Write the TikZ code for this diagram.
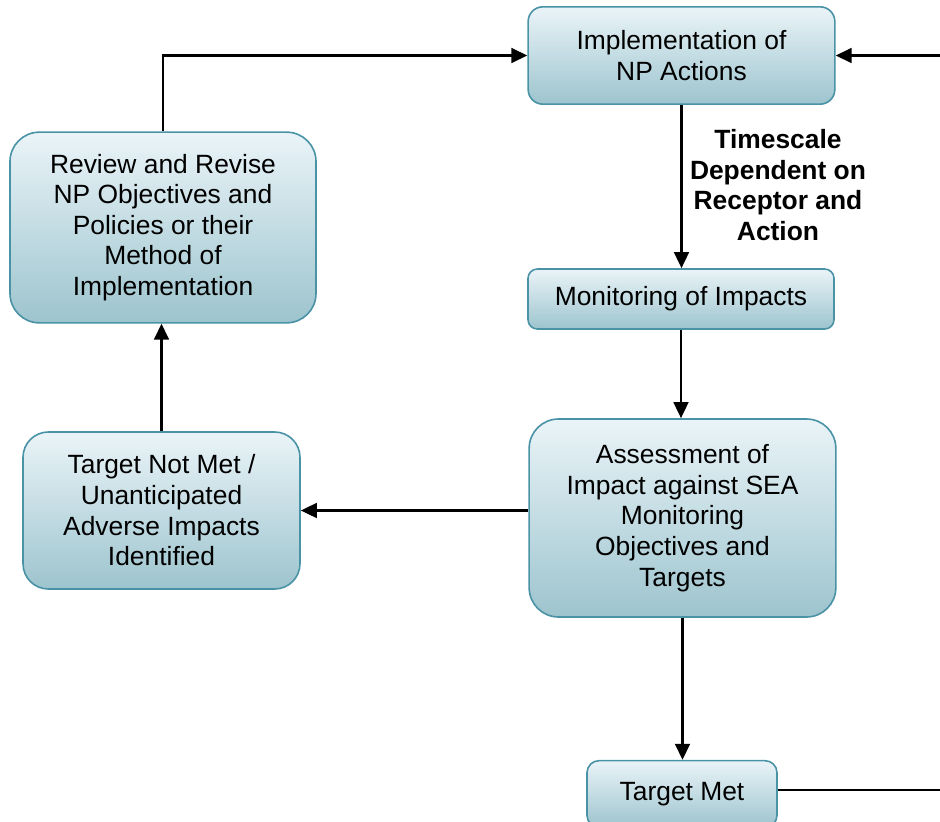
\documentclass[tikz,border=0pt]{standalone}
\usepackage{fontspec}
\setmainfont{Liberation Sans}
\usetikzlibrary{arrows.meta}

\definecolor{BoxTop}{HTML}{EAF4F8}
\definecolor{BoxBottom}{HTML}{9DC4CE}
\definecolor{BoxEdge}{HTML}{4A92A6}
\newcommand{\StageFont}{\fontsize{19.8}{23}\selectfont}

\tikzset{
  stage/.style={draw=BoxEdge, line width=1.2pt, top color=BoxTop, bottom color=BoxBottom,
    align=center, inner sep=0pt, font=\StageFont},
  flow/.style={line width=1.9pt, -{Triangle[length=12pt,width=11pt]}},
  plainflow/.style={line width=1.9pt}
}

\begin{document}
\begin{tikzpicture}[x=0.75pt, y=-0.75pt]
    \useasboundingbox (0,0) rectangle (940,822);
    \node[stage, minimum width=230pt, minimum height=73pt, rounded corners=11pt] (impl) at (681.5,55.5) {Implementation of\\NP Actions};
    \node[stage, minimum width=229.5pt, minimum height=143pt, rounded corners=22pt] (review) at (163,227.5) {Review and Revise\\NP Objectives and\\Policies or their\\Method of\\Implementation};
    \node[stage, minimum width=229.5pt, minimum height=45pt, rounded corners=7pt] (monitor) at (681,299) {Monitoring of Impacts};
    \node[stage, minimum width=230pt, minimum height=148.5pt, rounded corners=22pt] (assess) at (682.5,518) {Assessment of\\Impact against SEA\\Monitoring\\Objectives and\\Targets};
    \node[stage, minimum width=207.75pt, minimum height=117.75pt, rounded corners=19pt] (notmet) at (161.5,510.5) {Target Not Met /\\Unanticipated\\Adverse Impacts\\Identified};
    \node[stage, minimum width=142.5pt, minimum height=50pt, rounded corners=9pt] (met) at (682,794) {Target Met};
    %
    \node[font=\StageFont\bfseries, align=center] (timescale) at (778,185) {Timescale\\Dependent on\\Receptor and\\Action};
    \coordinate (loopin) at (940,55.5);
    \coordinate (loopout) at (940,790);
    %
    \draw[flow] (review.north) |- (impl.west);
    \draw[flow] (loopin) -- (impl.east);
    \draw[flow] (impl.south) -- (impl.south |- monitor.north);
    \draw[flow] (monitor.south) -- (monitor.south |- assess.north);
    \draw[flow] (assess.west |- notmet.east) -- (notmet.east);
    \draw[flow] (notmet.north) -- (notmet.north |- review.south);
    \draw[flow] (assess.south) -- (assess.south |- met.north);
    \draw[plainflow] (met.east |- loopout) -- (loopout);
  \end{tikzpicture}
\end{document}
